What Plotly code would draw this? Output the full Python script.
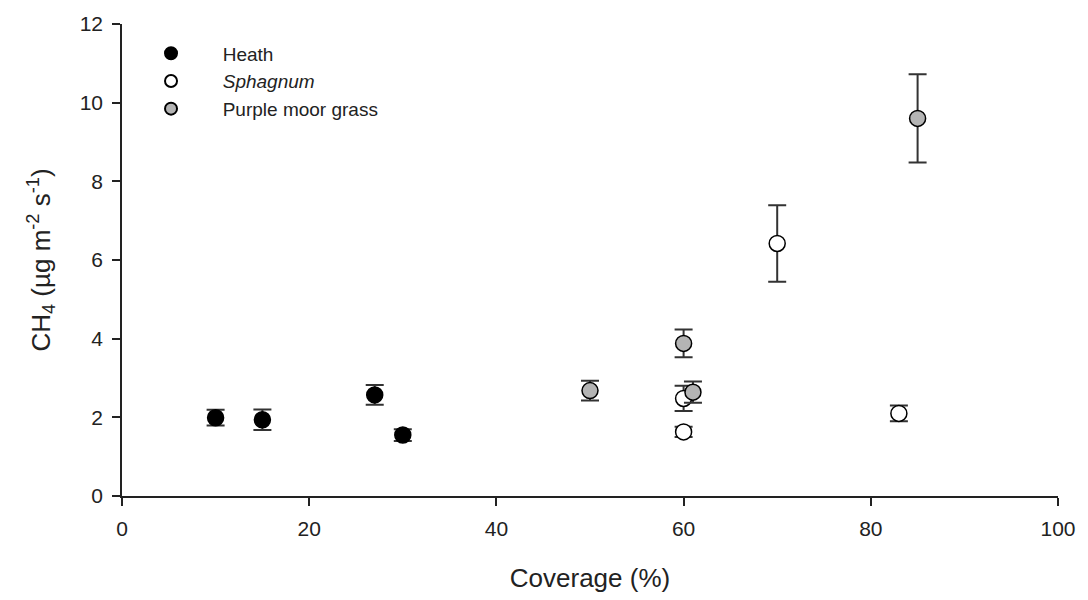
import plotly.graph_objects as go

heath_x = [10, 15, 27, 30]
heath_y = [1.99, 1.94, 2.57, 1.55]
heath_err = [0.2, 0.26, 0.25, 0.15]

sph_x = [60, 60, 70, 83]
sph_y = [2.48, 1.63, 6.42, 2.1]
sph_err = [0.32, 0.13, 0.97, 0.2]

pmg_x = [50, 60, 61, 85]
pmg_y = [2.68, 3.88, 2.64, 9.6]
pmg_err = [0.25, 0.35, 0.27, 1.12]

font = "Liberation Sans, Arial, sans-serif"
pad = "&nbsp;" * 6

def trace(name, x, y, err, fill):
    return go.Scatter(
        x=x, y=y, mode="markers", name=pad + name,
        marker=dict(size=16, color=fill, line=dict(color="black", width=1.5)),
        error_y=dict(type="data", array=err, visible=True, color="#333333",
                     thickness=2, width=9),
    )

fig = go.Figure()
fig.add_trace(trace("Heath", heath_x, heath_y, heath_err, "black"))
fig.add_trace(trace("<i>Sphagnum</i>", sph_x, sph_y, sph_err, "white"))
fig.add_trace(trace("Purple moor grass", pmg_x, pmg_y, pmg_err, "#b4b4b4"))

axis_common = dict(showgrid=False, zeroline=False, showline=True, linecolor="#222",
                   linewidth=1.5, ticks="outside", ticklen=8, tickcolor="#222",
                   tickwidth=1.5, ticklabelstandoff=5,
                   tickfont=dict(size=21, color="#222", family=font))

fig.update_layout(
    width=1088, height=600,
    margin=dict(l=122, r=28, t=18, b=103),
    plot_bgcolor="white", paper_bgcolor="white",
    font=dict(family=font, color="#222"),
    xaxis=dict(range=[0, 100], tickvals=[0, 20, 40, 60, 80, 100],
               title=dict(text="Coverage (%)", font=dict(size=26), standoff=30),
               **axis_common),
    yaxis=dict(range=[0, 12], tickvals=[0, 2, 4, 6, 8, 10, 12],
               title=dict(text="CH<sub>4</sub> (µg m<sup>-2</sup> s<sup>-1</sup>)",
                          font=dict(size=26), standoff=22),
               **axis_common),
    legend=dict(x=0.031, y=0.978, xanchor="left", yanchor="top",
                font=dict(size=19, color="#222"), bgcolor="rgba(0,0,0,0)",
                tracegroupgap=0, itemsizing="constant"),
)

fig.write_html("out.html")
